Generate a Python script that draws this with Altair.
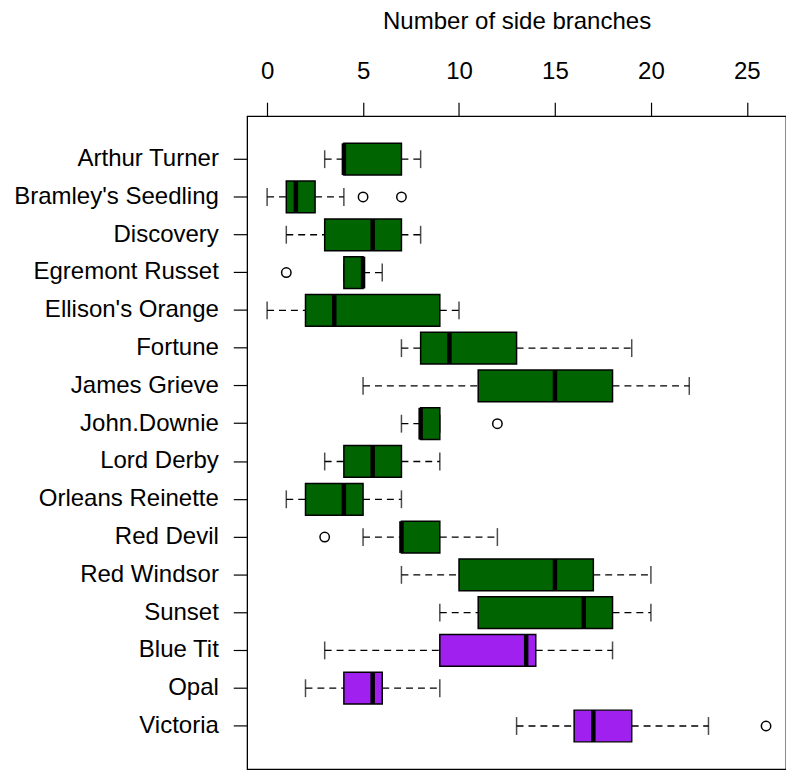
import altair as alt
import pandas as pd

categories = ["Arthur Turner", "Bramley's Seedling", "Discovery", "Egremont Russet",
              "Ellison's Orange", "Fortune", "James Grieve", "John.Downie",
              "Lord Derby", "Orleans Reinette", "Red Devil", "Red Windsor",
              "Sunset", "Blue Tit", "Opal", "Victoria"]
groups = ["green", "green", "green", "green", "green", "green", "green", "green",
          "green", "green", "green", "green", "green", "purple", "purple", "purple"]
lo_whisker = [3, 0, 1, 4, 0, 7, 5, 7, 3, 1, 5, 7, 9, 3, 2, 13]
q1 = [4, 1, 3, 4, 2, 8, 11, 8, 4, 2, 7, 10, 11, 9, 4, 16]
median = [4, 1.5, 5.5, 5, 3.5, 9.5, 15, 8, 5.5, 4, 7, 15, 16.5, 13.5, 5.5, 17]
q3 = [7, 2.5, 7, 5, 9, 13, 18, 9, 7, 5, 9, 17, 18, 14, 6, 19]
hi_whisker = [8, 4, 8, 6, 10, 19, 22, 9, 9, 7, 12, 20, 20, 18, 9, 23]

outlier_variety = ["Bramley's Seedling", "Bramley's Seedling", "Egremont Russet",
                   "John.Downie", "Red Devil", "Victoria"]
outlier_value = [5, 7, 1, 12, 3, 26]

df = pd.DataFrame({"variety": categories, "grp": groups, "lo": lo_whisker,
                   "q1": q1, "med": median, "q3": q3, "hi": hi_whisker})
out_df = pd.DataFrame({"variety": outlier_variety, "value": outlier_value})

FONT = "Liberation Sans"
FS = 24.2

yscale = alt.Scale(domain=categories, paddingInner=0.16, paddingOuter=0.72)
yaxis = alt.Axis(title=None, labelFontSize=FS, labelFont=FONT, labelColor="black",
                 tickSize=14, tickColor="black", tickWidth=1.2, labelPadding=15,
                 domain=False, grid=False, labelLimit=400)
xscale = alt.Scale(domain=[-1.04, 27.04], nice=False, zero=False)
xaxis = alt.Axis(orient="top", values=[0, 5, 10, 15, 20, 25], title="Number of side branches",
                 labelFontSize=FS, labelFont=FONT, labelColor="black",
                 titleFontSize=FS, titleFont=FONT, titleFontWeight="normal", titleColor="black",
                 tickSize=14, tickColor="black", tickWidth=1.2, labelPadding=19,
                 titlePadding=26, domain=False, grid=False)

Yb = alt.Y("variety:N", sort=categories, scale=yscale, axis=yaxis)
Yc = alt.Y("variety:N", sort=categories, scale=yscale, axis=yaxis, bandPosition=0.5)

def X(field):
    return alt.X(field, type="quantitative", scale=xscale, axis=xaxis)

base = alt.Chart(df)

wl = base.mark_rule(color="black", strokeWidth=1.3, strokeDash=[7, 5]).encode(
    x=X("lo"), x2="q1", y=Yc)
wr = base.mark_rule(color="black", strokeWidth=1.3, strokeDash=[7, 5]).encode(
    x=X("q3"), x2="hi", y=Yc)
cap_lo = base.mark_tick(color="black", thickness=1.5, size=18).encode(x=X("lo"), y=Yb)
cap_hi = base.mark_tick(color="black", thickness=1.5, size=18).encode(x=X("hi"), y=Yb)
box = base.mark_bar(stroke="black", strokeWidth=1.5, opacity=1).encode(
    x=X("q1"), x2="q3", y=Yb,
    fill=alt.Fill("grp:N", scale=alt.Scale(domain=["green", "purple"],
                                           range=["#006400", "#A020F0"]), legend=None))
med = base.mark_tick(color="black", thickness=4.5, size=32, opacity=1).encode(x=X("med"), y=Yb)
outl = alt.Chart(out_df).mark_point(shape="circle", filled=False, color="black",
                                    strokeWidth=1.5, size=90, opacity=1).encode(
    x=X("value"), y=Yc)

chart = alt.layer(wl, wr, cap_lo, cap_hi, box, med, outl).properties(
    width=543, height=658,
    autosize=alt.AutoSizeParams(type="none"),
    padding={"left": 241, "top": 106, "right": 0, "bottom": 0},
).configure(background="white").configure_view(stroke="black", strokeWidth=1.3)

chart.save("out.html", embed_options={"renderer": "svg", "actions": False})
